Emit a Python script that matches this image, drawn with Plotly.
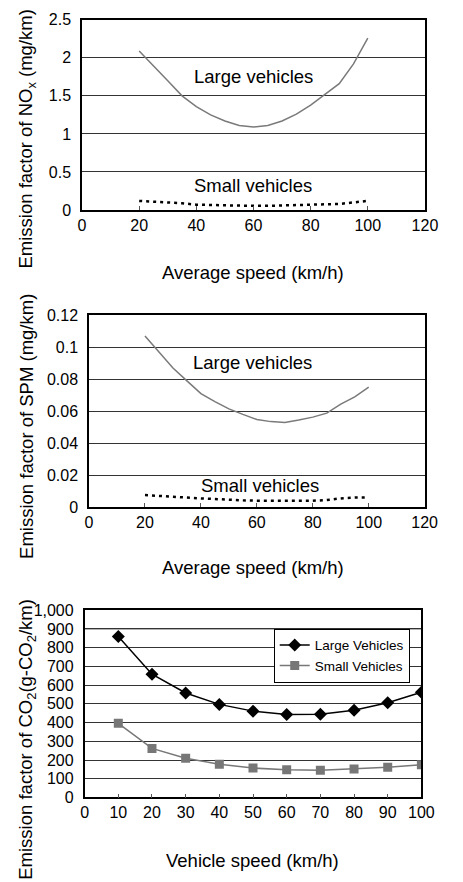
import plotly.graph_objects as go

# ---- Data ----
speed_nox = [20, 25, 30, 35, 40, 45, 50, 55, 60, 65, 70, 75, 80, 85, 90, 95, 100]
nox_large = [2.09, 1.90, 1.70, 1.50, 1.36, 1.25, 1.17, 1.11, 1.09, 1.11, 1.17, 1.26, 1.38, 1.52, 1.66, 1.92, 2.26]
nox_small = [0.12, 0.11, 0.10, 0.09, 0.07, 0.065, 0.06, 0.055, 0.055, 0.055, 0.06, 0.06, 0.065, 0.07, 0.08, 0.10, 0.12]

speed_spm = [20, 25, 30, 35, 40, 45, 50, 55, 60, 65, 70, 75, 80, 85, 90, 95, 100]
spm_large = [0.107, 0.097, 0.087, 0.079, 0.071, 0.066, 0.0615, 0.058, 0.0548, 0.0535, 0.053, 0.0545, 0.0563, 0.0588, 0.0645, 0.069, 0.075]
spm_small = [0.0076, 0.0072, 0.0065, 0.006, 0.0055, 0.005, 0.0046, 0.0043, 0.0041, 0.004, 0.004, 0.004, 0.004, 0.0045, 0.0055, 0.006, 0.006]

speed_co2 = [10, 20, 30, 40, 50, 60, 70, 80, 90, 100]
co2_large = [860, 658, 558, 497, 461, 443, 444, 466, 506, 562]
co2_small = [396, 262, 209, 178, 157, 148, 145, 152, 161, 175]

W, H = 463, 882
FONT = "Liberation Sans, Arial, sans-serif"
TSIZE = 18.5

def px(x):
    return x / W

def py(y):
    return 1 - y / H

fig = go.Figure()

# --- Top: NOx ---
fig.add_trace(go.Scatter(x=speed_nox, y=nox_large, mode="lines",
                         line=dict(color="#7a7a7a", width=1.5), showlegend=False,
                         xaxis="x", yaxis="y"))
fig.add_trace(go.Scatter(x=speed_nox, y=nox_small, mode="lines",
                         line=dict(color="black", width=2.5, dash="3px,4px"), showlegend=False,
                         xaxis="x", yaxis="y"))
# --- Middle: SPM ---
fig.add_trace(go.Scatter(x=speed_spm, y=spm_large, mode="lines",
                         line=dict(color="#7a7a7a", width=1.5), showlegend=False,
                         xaxis="x2", yaxis="y2"))
fig.add_trace(go.Scatter(x=speed_spm, y=spm_small, mode="lines",
                         line=dict(color="black", width=2.5, dash="3px,4px"), showlegend=False,
                         xaxis="x2", yaxis="y2"))
# --- Bottom: CO2 ---
fig.add_trace(go.Scatter(x=speed_co2, y=co2_large, mode="lines+markers", name="Large Vehicles",
                         line=dict(color="black", width=1.5),
                         marker=dict(symbol="diamond", size=10, color="black"),
                         xaxis="x3", yaxis="y3"))
fig.add_trace(go.Scatter(x=speed_co2, y=co2_small, mode="lines+markers", name="Small Vehicles",
                         line=dict(color="#777777", width=1.5),
                         marker=dict(symbol="square", size=9, color="#777777"),
                         xaxis="x3", yaxis="y3"))

tickfont = dict(family=FONT, size=16, color="black")

def xax(domain, anchor, rng, dtick):
    return dict(domain=domain, anchor=anchor, range=rng, dtick=dtick, tick0=0,
                showline=True, linecolor="black", linewidth=1.5, mirror=True,
                showgrid=False, zeroline=False, ticks="inside", ticklen=4,
                tickcolor="#555", tickfont=tickfont, ticklabelstandoff=0, fixedrange=True)

def yax(domain, anchor, rng, dtick, fmt=None):
    d = dict(domain=domain, anchor=anchor, range=rng, dtick=dtick, tick0=0,
             showline=True, linecolor="black", linewidth=1.5, mirror=True,
             showgrid=True, gridcolor="#333", gridwidth=1, zeroline=False,
             ticks="", tickfont=tickfont, ticklabelstandoff=6, fixedrange=True)
    if fmt:
        d["tickformat"] = fmt
    return d

layout = dict(
    width=W, height=H, margin=dict(l=0, r=0, t=0, b=0),
    paper_bgcolor="white", plot_bgcolor="white",
    font=dict(family=FONT, size=16, color="black"),
    xaxis=xax([px(81), px(437)], "y", [0, 120], 20),
    yaxis=yax([py(206), py(12)], "x", [0, 2.5], 0.5),
    xaxis2=xax([px(88.3), px(436.7)], "y2", [0, 120], 20),
    yaxis2=yax([py(509), py(313.3)], "x2", [0, 0.12], 0.02),
    xaxis3=xax([px(83.7), px(433.3)], "y3", [0, 100], 10),
    yaxis3=yax([py(805), py(614)], "x3", [0, 1000], 100, ",d"),
    legend=dict(x=px(280), y=py(633), xanchor="left", yanchor="top",
                bgcolor="white", bordercolor="black", borderwidth=1,
                font=dict(family="Liberation Sans Narrow, Arial Narrow, Liberation Sans", size=13.5),
                tracegroupgap=0, itemwidth=30),
    showlegend=True,
)
fig.update_layout(**layout)

def A(x, y, text, xref="paper", yref="paper", angle=0):
    return dict(x=x, y=y, xref=xref, yref=yref, text=text, showarrow=False,
                xanchor="center", yanchor="middle", textangle=angle,
                font=dict(size=TSIZE))

ann = [
    A(60, 1.75, "Large vehicles", "x", "y"),
    A(60, 0.32, "Small vehicles", "x", "y"),
    A(58.6, 0.0904, "Large vehicles", "x2", "y2"),
    A(61, 0.0137, "Small vehicles", "x2", "y2"),
    A(px(258), py(270), "Average speed (km/h)"),
    A(px(258), py(570), "Average speed (km/h)"),
    A(px(258), py(869), "Vehicle speed (km/h)"),
    A(px(24), py(134), "Emission factor of NO<sub>x</sub> (mg/km)", angle=-90),
    A(px(24), py(427), "Emission factor of SPM (mg/km)", angle=-90),
    A(px(24), py(746), "Emission factor of CO<sub>2</sub>(g-CO<sub>2</sub>/km)", angle=-90),
]
fig.update_layout(annotations=ann)

# 900 gridline drawn in lighter gray on bottom chart
fig.add_shape(type="line", xref="x3 domain", yref="y3", x0=0, x1=1, y0=900, y1=900,
              line=dict(color="#999", width=1.5), layer="below")

fig.write_html("out.html")
